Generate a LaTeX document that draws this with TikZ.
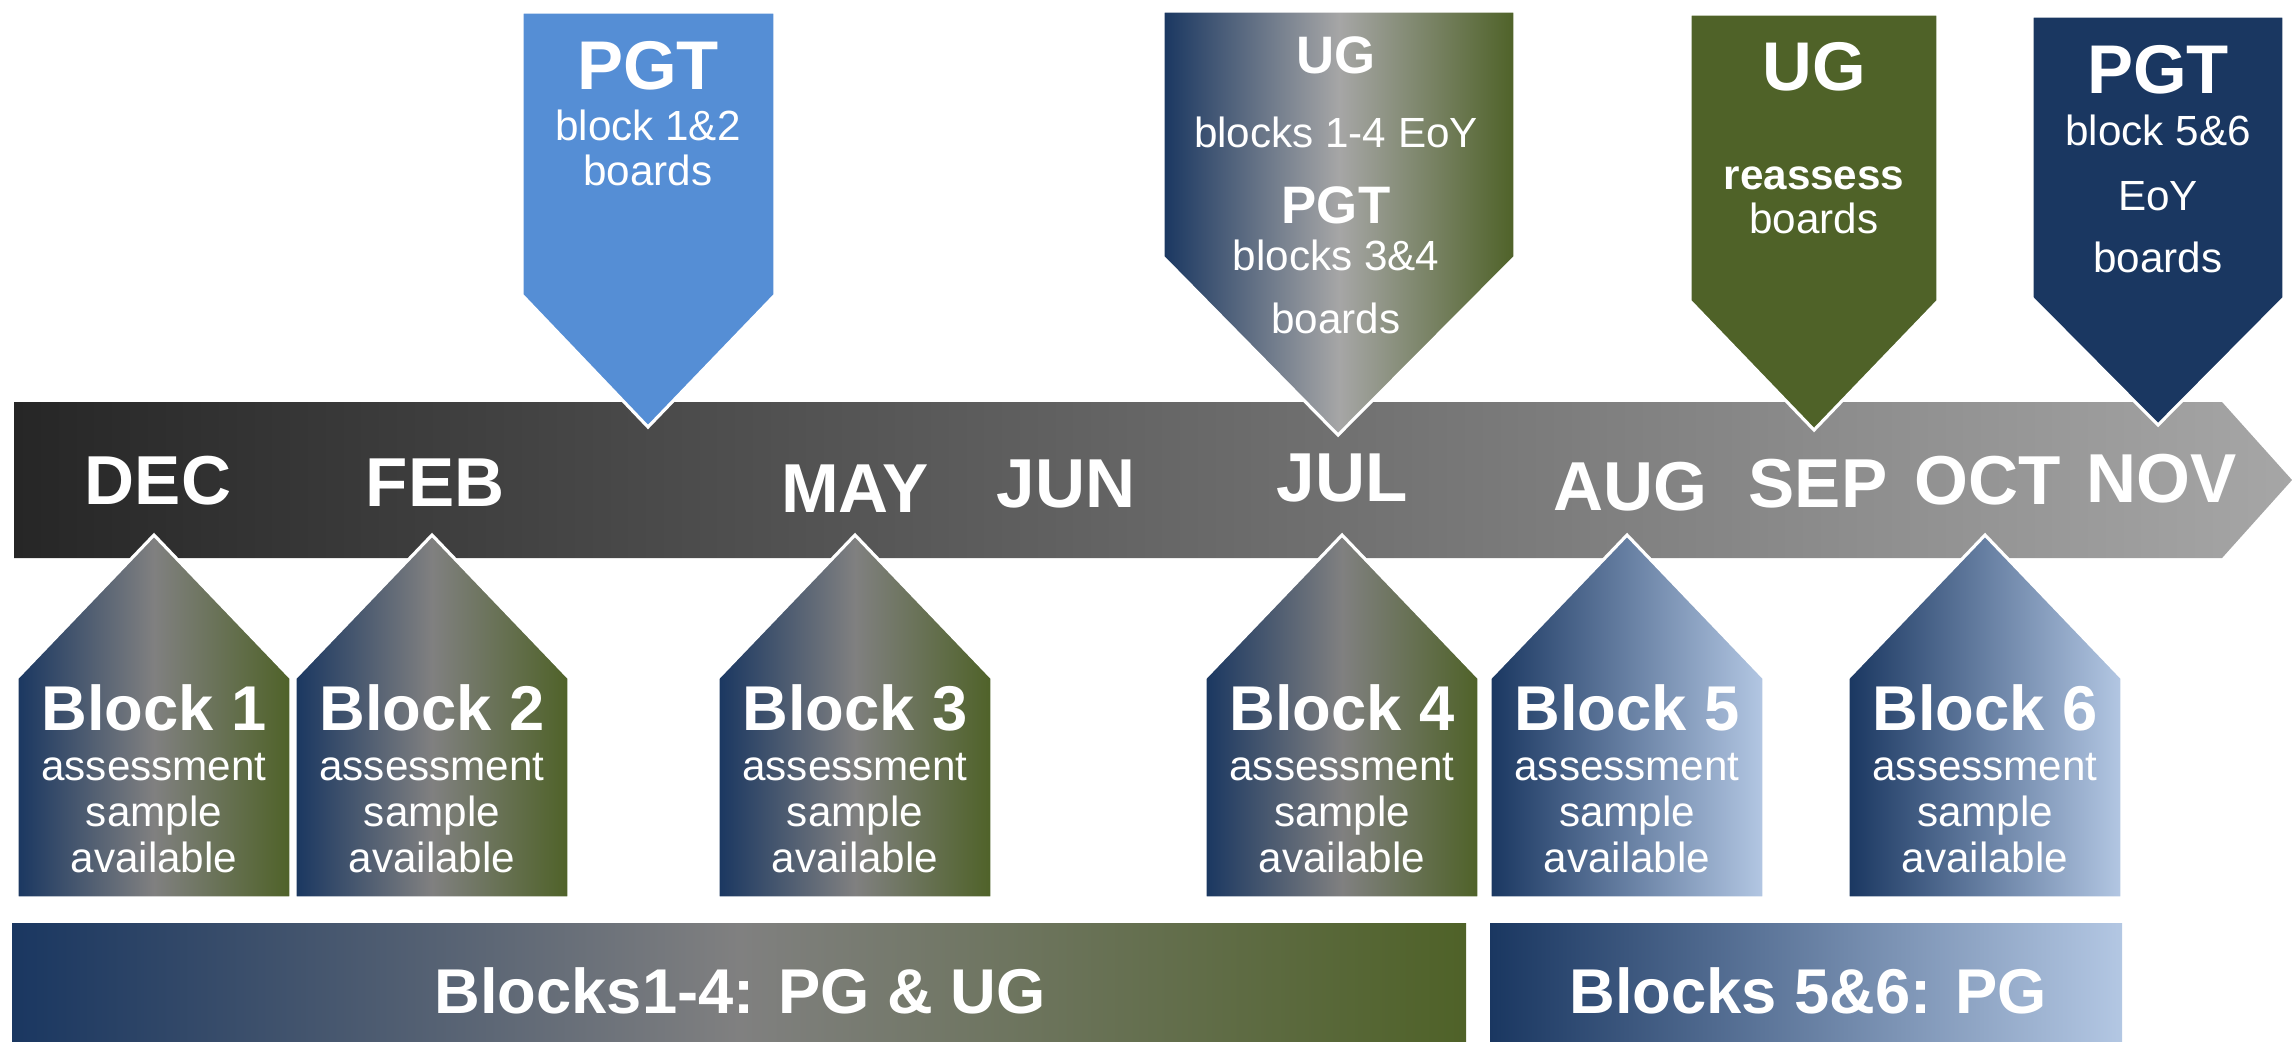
\documentclass[tikz,border=0pt]{standalone}
\usepackage{fontspec}
\setmainfont{Liberation Sans}
\usepackage{tikz}

\definecolor{tlnavy}{HTML}{1A3761}
\definecolor{tlolive}{HTML}{4F6228}
\definecolor{tlgrey}{HTML}{808080}
\definecolor{tllight}{HTML}{A6A6A6}
\definecolor{tlsky}{HTML}{558ED5}
\definecolor{tlpale}{HTML}{B3C7E3}
\definecolor{tldark}{HTML}{262626}

\tikzset{
    flag/.style={draw=white, line width=0.9pt},
    month/.style={anchor=base, inner sep=0pt, text=white, font=\fontsize{19.7}{23}\selectfont\bfseries},
    head/.style={anchor=base, inner sep=0pt, text=white, font=\fontsize{19.6}{23}\selectfont\bfseries},
    headsmall/.style={anchor=base, inner sep=0pt, text=white, font=\fontsize{15}{18}\selectfont\bfseries},
    line/.style={anchor=base, inner sep=0pt, text=white, font=\fontsize{12}{14}\selectfont},
    boldline/.style={anchor=base, inner sep=0pt, text=white, font=\fontsize{12}{14}\selectfont\bfseries},
    blocktitle/.style={anchor=base, inner sep=0pt, text=white, font=\fontsize{18}{21}\selectfont\bfseries},
}

\begin{document}
\begin{tikzpicture}[x=0.01cm, y=-0.01cm]
    \useasboundingbox (0,0) rectangle (2292,1041);
    % Frise des mois
    \path[left color=tldark, right color=tllight]
        (14,402) -- (2222,402) -- (2292,480) -- (2222,558) -- (14,558) -- cycle;
    \foreach \m/\x/\y in {DEC/158/504, FEB/435/506, MAY/855/512, JUN/1066/507, JUL/1342/501,
                          AUG/1630/510, SEP/1818/507, OCT/1988/504, NOV/2162/502} {
        \node[month] (\m) at (\x,\y) {\m};
    }
    % Fleches du haut
    \path[flag, fill=tlsky] (522,12) -- (775,12) -- (775,295) -- (648,427) -- (522,295) -- cycle;
    \node[head] (pgtA) at (648,89) {PGT};
    \node[line] (pgtA1) at (648,140) {block 1\&2};
    \node[line] (pgtA2) at (648,185) {boards};

    \path[flag, left color=tlnavy, right color=tlolive, middle color=tllight]
        (1163,11) -- (1515,11) -- (1515,257) -- (1338,435) -- (1163,257) -- cycle;
    \node[headsmall] (ugJ) at (1336,73) {UG};
    \node[line] (ugJ1) at (1336,147) {blocks 1-4 EoY};
    \node[headsmall] (pgtJ) at (1336,223) {PGT};
    \node[line] (pgtJ1) at (1336,270) {blocks 3\&4};
    \node[line] (pgtJ2) at (1336,333) {boards};

    \path[flag, fill=tlolive] (1690,14) -- (1938,14) -- (1938,301) -- (1814,430) -- (1690,301) -- cycle;
    \node[head] (ugS) at (1814,90) {UG};
    \node[boldline] (ugS1) at (1814,189) {reassess};
    \node[line] (ugS2) at (1814,233) {boards};

    \path[flag, fill=tlnavy] (2032,16) -- (2284,16) -- (2284,298) -- (2158,425) -- (2032,298) -- cycle;
    \node[head] (pgtN) at (2158,93) {PGT};
    \node[line] (pgtN1) at (2158,145) {block 5\&6};
    \node[line] (pgtN2) at (2158,210) {EoY};
    \node[line] (pgtN3) at (2158,272) {boards};

    % Blocs du bas
    \foreach \c/\n/\rc/\mc in {154/1/tlolive/tlgrey, 432/2/tlolive/tlgrey, 855/3/tlolive/tlgrey,
                               1342/4/tlolive/tlgrey, 1627/5/tlpale/tlnavy!50!tlpale,
                               1985/6/tlpale/tlnavy!50!tlpale} {
        \path[flag, left color=tlnavy, right color=\rc, middle color=\mc]
            ({\c-137},898) -- ({\c-137},678) -- (\c,535) -- ({\c+137},678) -- ({\c+137},898) -- cycle;
        \node[blocktitle] (block\n) at (\c,730) {Block \n};
        \node[line] (assess\n) at (\c,780) {assessment};
        \node[line] (sample\n) at (\c,826) {sample};
        \node[line] (avail\n) at (\c,872) {available};
    }

    % Bandeaux
    \path[left color=tlnavy, right color=tlolive, middle color=tlgrey] (12,923) rectangle (1466,1041);
    \node[blocktitle] (barUG) at (740,1013) {Blocks1-4: PG \& UG};
    \path[left color=tlnavy, right color=tlpale, middle color=tlnavy!50!tlpale] (1490,923) rectangle (2122,1041);
    \node[blocktitle] (barPG) at (1808,1013) {Blocks 5\&6: PG};
\end{tikzpicture}
\end{document}
